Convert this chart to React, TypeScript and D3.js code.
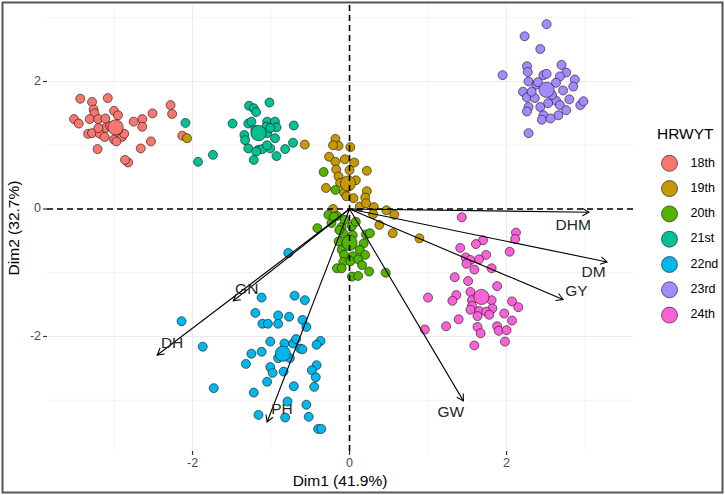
import React from 'react';
import * as d3 from 'd3';

const groups = ['18th', '19th', '20th', '21st', '22nd', '23rd', '24th'];
const groupColors = ['#F8766D', '#C49A00', '#53B400', '#00C094', '#00B6EB', '#A58AFF', '#FB61D7'];

const g18: [number, number][] = [
  [-3.43, 1.73], [-3.28, 1.68], [-3.08, 1.74], [-3.26, 1.56], [-3.25, 1.50], [-3.51, 1.41],
  [-3.45, 1.34], [-3.31, 1.41], [-3.20, 1.41], [-3.11, 1.42], [-3.00, 1.54], [-2.95, 1.47],
  [-3.11, 1.27], [-3.33, 1.18], [-3.28, 1.19], [-3.18, 1.18], [-3.12, 1.13], [-3.00, 1.09],
  [-2.90, 1.13], [-2.87, 1.18], [-2.97, 1.06], [-2.75, 1.37], [-2.64, 1.41], [-2.64, 1.29],
  [-2.51, 1.50], [-2.53, 1.06], [-2.66, 0.95], [-3.21, 0.94], [-2.28, 1.63], [-2.26, 1.49],
  [-2.13, 1.15], [-2.82, 0.73], [-2.86, 0.77], [-3.20, 1.27], [-3.05, 1.30], [-2.95, 1.24],
];
const g19: [number, number][] = [
  [-2.07, 1.11], [-0.57, 1.01], [-0.18, 1.10], [-0.14, 0.99], [-0.21, 1.00], [0.01, 0.97],
  [-0.26, 0.82], [-0.18, 0.74], [-0.06, 0.78], [0.06, 0.73], [-0.17, 0.62], [0.00, 0.61],
  [0.22, 0.60], [-0.14, 0.51], [-0.30, 0.33], [-0.07, 0.26], [0.22, 0.28], [-0.04, 0.20],
  [0.05, 0.17], [0.20, 0.18], [0.13, 0.04], [0.31, 0.03], [0.47, -0.02], [0.57, -0.09],
  [0.21, 0.09], [-0.21, 0.00], [0.30, -0.08], [0.38, -0.25], [0.55, -0.38], [0.89, -0.46],
  [-0.12, 0.41], [0.08, 0.45],
];
const g20: [number, number][] = [
  [-0.33, 0.58], [-0.18, 0.30], [-0.27, -0.09], [-0.16, -0.11], [-0.23, -0.22], [-0.41, -0.30],
  [-0.10, -0.28], [0.03, -0.27], [-0.08, -0.38], [0.04, -0.41], [0.21, -0.40], [0.26, -0.38],
  [-0.14, -0.51], [0.18, -0.54], [-0.10, -0.64], [0.13, -0.64], [-0.07, -0.72], [0.20, -0.72],
  [0.04, -0.74], [-0.08, -0.83], [0.01, -0.82], [0.11, -0.79], [0.16, -0.88], [-0.16, -0.93],
  [-0.10, -0.93], [0.25, -0.98], [0.46, -1.00], [0.03, -1.06], [0.11, -1.05], [-0.20, -0.12],
  [-0.06, -0.17], [0.08, -0.20], [-0.13, -0.33],
];
const g21: [number, number][] = [
  [-2.09, 1.35], [-1.93, 0.74], [-1.74, 0.85], [-1.49, 1.34], [-1.28, 1.62], [-1.22, 1.58],
  [-1.19, 1.52], [-1.02, 1.67], [-1.29, 1.34], [-1.25, 1.37], [-1.05, 1.37], [-0.95, 1.37],
  [-1.06, 1.29], [-0.93, 1.28], [-1.34, 1.16], [-1.33, 1.08], [-0.95, 1.11], [-1.05, 1.19],
  [-0.71, 1.31], [-1.29, 0.95], [-1.16, 0.93], [-1.11, 0.94], [-1.01, 0.95], [-1.05, 1.00],
  [-0.72, 1.04], [-0.82, 0.94], [-1.19, 0.90], [-1.22, 0.77], [-0.93, 0.83], [-1.01, 1.27],
  [-1.20, 1.24],
];
const g22: [number, number][] = [
  [-0.78, -0.69], [-1.12, -1.39], [-0.70, -1.36], [-0.57, -1.43], [-2.14, -1.76], [-1.20, -1.63],
  [-0.91, -1.67], [-0.77, -1.69], [-0.60, -1.74], [-1.11, -1.80], [-1.04, -1.80], [-0.91, -1.80],
  [-0.55, -1.85], [-1.87, -2.16], [-1.01, -2.08], [-0.83, -2.11], [-0.72, -2.11], [-0.68, -2.04],
  [-0.63, -2.19], [-0.60, -2.20], [-0.37, -2.07], [-0.42, -2.13], [-1.25, -2.27], [-1.12, -2.24],
  [-1.32, -2.43], [-0.91, -2.34], [-0.76, -2.34], [-1.01, -2.48], [-0.98, -2.57], [-0.84, -2.55],
  [-0.42, -2.45], [-0.48, -2.53], [-0.43, -2.64], [-1.05, -2.71], [-0.71, -2.78], [-0.45, -2.79],
  [-1.73, -2.81], [-1.22, -2.88], [-0.79, -3.02], [-0.55, -3.07], [-1.16, -3.23], [-0.82, -3.27],
  [-0.52, -3.26], [-0.40, -3.45], [-0.36, -3.45],
];
const g23: [number, number][] = [
  [2.51, 2.90], [2.23, 2.71], [2.43, 2.51], [1.95, 2.10], [2.26, 2.24], [2.27, 2.15],
  [2.70, 2.26], [2.76, 2.14], [2.47, 2.10], [2.51, 2.12], [2.28, 2.00], [2.38, 1.95],
  [2.68, 2.08], [2.63, 1.98], [2.87, 2.03], [2.85, 1.92], [2.21, 1.84], [2.72, 1.86],
  [2.26, 1.75], [2.36, 1.74], [2.80, 1.72], [2.63, 1.70], [2.53, 1.66], [2.68, 1.63],
  [2.28, 1.60], [2.43, 1.60], [2.94, 1.63], [2.98, 1.69], [2.26, 1.53], [2.76, 1.55],
  [2.47, 1.47], [2.66, 1.47], [2.45, 1.40], [2.56, 1.42], [2.28, 1.19], [2.40, 1.99],
  [2.58, 1.79], [2.32, 1.84],
];
const g24: [number, number][] = [
  [1.43, -0.13], [2.12, -0.37], [2.11, -0.47], [1.70, -0.49], [1.61, -0.55], [1.41, -0.61],
  [2.04, -0.67], [1.74, -0.72], [1.65, -0.79], [1.48, -0.76], [1.54, -0.80], [1.49, -0.86],
  [1.59, -0.95], [1.81, -0.93], [1.34, -1.07], [1.51, -1.13], [1.88, -1.21], [1.54, -1.30],
  [1.36, -1.35], [1.31, -1.44], [1.00, -1.39], [1.56, -1.43], [1.56, -1.52], [1.81, -1.43],
  [1.82, -1.56], [1.65, -1.60], [1.74, -1.61], [1.54, -1.58], [2.07, -1.45], [2.15, -1.54],
  [1.63, -1.68], [1.78, -1.66], [1.97, -1.64], [2.07, -1.75], [1.39, -1.73], [1.23, -1.84],
  [0.96, -1.89], [1.63, -1.85], [1.88, -1.84], [1.90, -1.91], [2.00, -1.90], [1.67, -1.95],
  [1.98, -2.08], [1.59, -2.14],
];
const groupPoints = [g18, g19, g20, g21, g22, g23, g24];

// group means (large points)
const meanX = [-2.98, -0.02, 0.0, -1.16, -0.85, 2.51, 1.68];
const meanY = [1.28, 0.40, -0.53, 1.19, -2.27, 1.87, -1.38];

// variables
const varNames = ['DHM', 'DM', 'GY', 'GW', 'PH', 'DH', 'GN'];
const varX = [3.05, 3.28, 2.72, 1.45, -1.05, -2.45, -1.48];
const varY = [-0.05, -0.83, -1.42, -3.01, -3.34, -2.29, -1.44];
const varLabelX = [2.85, 3.11, 2.89, 1.29, -0.86, -2.26, -1.31];
const varLabelY = [-0.27, -1.0, -1.30, -3.20, -3.15, -2.12, -1.27];

const majorTicks = [-2, 0, 2];
const minorTicks = [-3, -1, 1, 3];
const xTitle = 'Dim1 (41.9%)';
const yTitle = 'Dim2 (32.7%)';
const legendTitle = 'HRWYT';

const W = 725;
const H = 495;
const P = { left: 47, right: 633, top: 5, bottom: 451 };
const X_DOMAIN: [number, number] = [-3.854, 3.611];
const Y_DOMAIN: [number, number] = [-3.796, 3.2];
const FONT = 'Liberation Sans, Arial, Helvetica, sans-serif';

export default function App() {
  const x = d3.scaleLinear().domain(X_DOMAIN).range([P.left, P.right]);
  const y = d3.scaleLinear().domain(Y_DOMAIN).range([P.bottom, P.top]);

  const arrowLen = 7.5;
  const arrows = varNames.map((name, i) => {
    const x0 = x(0), y0 = y(0);
    const x1 = x(varX[i]), y1 = y(varY[i]);
    const a = Math.atan2(y1 - y0, x1 - x0);
    const h1 = [x1 - arrowLen * Math.cos(a - Math.PI / 6), y1 - arrowLen * Math.sin(a - Math.PI / 6)];
    const h2 = [x1 - arrowLen * Math.cos(a + Math.PI / 6), y1 - arrowLen * Math.sin(a + Math.PI / 6)];
    return { name, x0, y0, x1, y1, head: `M${h1[0]},${h1[1]}L${x1},${y1}L${h2[0]},${h2[1]}`, lx: x(varLabelX[i]), ly: y(varLabelY[i]) };
  });

  return (
    <svg width={W} height={H} style={{ position: 'absolute', left: 0, top: 0, background: '#fff' }} fontFamily={FONT}>
      <rect x={0} y={0} width={W} height={H} fill="#fff" />
      <defs>
        <clipPath id="panel">
          <rect x={P.left} y={P.top} width={P.right - P.left} height={P.bottom - P.top} />
        </clipPath>
      </defs>
      {/* grid */}
      <g>
        {minorTicks.map((t) => (
          <line key={'mx' + t} x1={x(t)} x2={x(t)} y1={P.top} y2={P.bottom} stroke="#ebebeb" strokeWidth={0.6} />
        ))}
        {minorTicks.map((t) => (
          <line key={'my' + t} x1={P.left} x2={P.right} y1={y(t)} y2={y(t)} stroke="#ebebeb" strokeWidth={0.6} />
        ))}
        {majorTicks.map((t) => (
          <line key={'Mx' + t} x1={x(t)} x2={x(t)} y1={P.top} y2={P.bottom} stroke="#ebebeb" strokeWidth={1.2} />
        ))}
        {majorTicks.map((t) => (
          <line key={'My' + t} x1={P.left} x2={P.right} y1={y(t)} y2={y(t)} stroke="#ebebeb" strokeWidth={1.2} />
        ))}
      </g>
      {/* points */}
      <g clipPath="url(#panel)">
        {groupPoints.map((pts, gi) =>
          pts.map((p, i) => (
            <circle key={gi + '-' + i} cx={x(p[0])} cy={y(p[1])} r={4.5} fill={groupColors[gi]} stroke="#111" strokeWidth={0.6} />
          ))
        )}
        {groups.map((g, gi) => (
          <circle key={'m' + g} cx={x(meanX[gi])} cy={y(meanY[gi])} r={7.6} fill={groupColors[gi]} stroke="#111" strokeWidth={0.6} />
        ))}
      </g>
      {/* arrows */}
      <g>
        {arrows.map((a) => (
          <g key={a.name}>
            <line x1={a.x0} y1={a.y0} x2={a.x1} y2={a.y1} stroke="#000" strokeWidth={1.1} />
            <path d={a.head} fill="none" stroke="#000" strokeWidth={1.1} />
            <text x={a.lx} y={a.ly} textAnchor="middle" dominantBaseline="middle" fontSize={15.5} fill="#262626">
              {a.name}
            </text>
          </g>
        ))}
      </g>
      {/* dashed reference lines */}
      <line x1={x(0)} x2={x(0)} y1={P.top} y2={P.bottom} stroke="#000" strokeWidth={1.6} strokeDasharray="6 4" />
      <line x1={P.left} x2={P.right} y1={y(0)} y2={y(0)} stroke="#000" strokeWidth={1.6} strokeDasharray="6 4" />
      {/* axes ticks and labels */}
      <g>
        {majorTicks.map((t) => (
          <g key={'xt' + t}>
            <line x1={x(t)} x2={x(t)} y1={P.bottom} y2={P.bottom + 4} stroke="#333" strokeWidth={1.2} />
            <text x={x(t)} y={P.bottom + 7} textAnchor="middle" dominantBaseline="hanging" fontSize={12.5} fill="#4d4d4d">
              {t < 0 ? '-' + Math.abs(t) : String(t)}
            </text>
          </g>
        ))}
        {majorTicks.map((t) => (
          <g key={'yt' + t}>
            <line x1={P.left - 4} x2={P.left} y1={y(t)} y2={y(t)} stroke="#333" strokeWidth={1.2} />
            <text x={P.left - 6} y={y(t)} textAnchor="end" dominantBaseline="middle" fontSize={12.5} fill="#4d4d4d">
              {t < 0 ? '-' + Math.abs(t) : String(t)}
            </text>
          </g>
        ))}
        <text x={(P.left + P.right) / 2} y={P.bottom + 31} textAnchor="middle" dominantBaseline="middle" fontSize={15.5} fill="#000">
          {xTitle}
        </text>
        <text
          transform={`translate(15,${(P.top + P.bottom) / 2}) rotate(-90)`}
          textAnchor="middle"
          dominantBaseline="middle"
          fontSize={15.5}
          fill="#000"
        >
          {yTitle}
        </text>
      </g>
      {/* legend */}
      <g>
        <text x={657} y={135} dominantBaseline="middle" fontSize={15.5} fill="#000">
          {legendTitle}
        </text>
        {groups.map((g, i) => (
          <g key={'lg' + g} transform={`translate(669.5,${163.3 + i * 25.3})`}>
            <circle r={8} fill={groupColors[i]} stroke="#111" strokeWidth={0.6} />
            <text x={21} y={0} dominantBaseline="middle" fontSize={12.5} fill="#000">
              {g}
            </text>
          </g>
        ))}
      </g>
      {/* outer frame */}
      <rect x={2.5} y={2.5} width={720} height={490} fill="none" stroke="#555" strokeWidth={2} />
    </svg>
  );
}
